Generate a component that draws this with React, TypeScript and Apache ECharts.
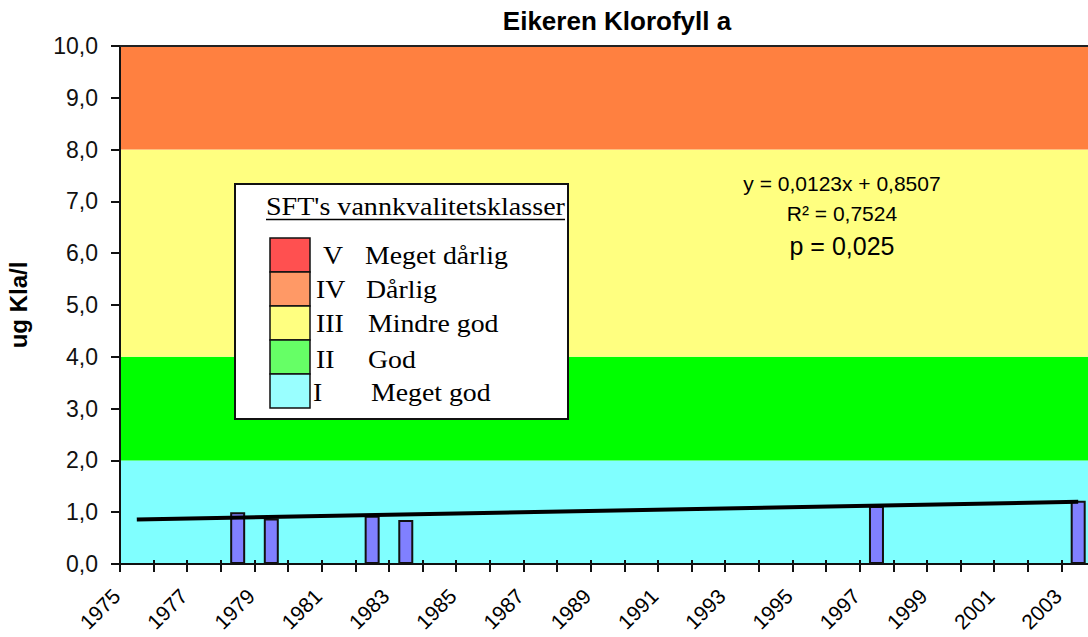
import React, { useEffect, useRef } from "react";
import * as echarts from "echarts";

// Data
const barYears = [1978, 1979, 1982, 1983, 1997, 2003];
const barValues = [1.0, 0.88, 0.93, 0.85, 1.12, 1.22];
const trendYears = [1975, 2003];
const trendValues = [0.86, 1.2];
const bandLimits = [0, 2, 4, 8, 10];
const bandColors = ["#80FFFF", "#00FF00", "#FFFF80", "#FF8040"];
const classNumerals = ["V", "IV", "III", "II", "I"];
const classNames = ["Meget dårlig", "Dårlig", "Mindre god", "God", "Meget god"];
const classColors = ["#FF5050", "#FF9966", "#FFFF80", "#66FF66", "#99FFFF"];
const equationLines = ["y = 0,0123x + 0,8507", "R² = 0,7524", "p = 0,025"];

const SANS = "'Liberation Sans', Arial, sans-serif";
const SERIF = "'Liberation Serif', 'Times New Roman', serif";

export default function App() {
  const ref = useRef<HTMLDivElement>(null);
  useEffect(() => {
    if (!ref.current) return;
    const chart = echarts.init(ref.current, undefined, { renderer: "svg" });

    const markAreaData = bandColors.map((c, i) => [
      { yAxis: bandLimits[i], itemStyle: { color: c } },
      { yAxis: bandLimits[i + 1] },
    ]);

    const swatchY = [238, 272, 306, 340, 374];
    const textY = [255, 289, 323, 359, 392];
    const numeralX = [323, 316, 316, 316, 313];
    const nameX = [365, 366, 368, 368, 371];

    const Z = 100;
    const serifText = (text: string, x: number, y: number, sx: number) => ({
      type: "text",
      z: Z + 1,
      x,
      y,
      scaleX: sx,
      style: {
        text,
        x: 0,
        y: 0,
        font: `26px ${SERIF}`,
        fill: "#000",
        textAlign: "left",
        textVerticalAlign: "middle",
      },
    });

    const graphics: any[] = [
      {
        type: "text",
        z: Z,
        style: {
          text: "Eikeren Klorofyll a",
          x: 617,
          y: 21,
          font: `bold 26px ${SANS}`,
          fill: "#000",
          textAlign: "center",
          textVerticalAlign: "middle",
        },
      },
      {
        type: "rect",
        z: Z,
        shape: { x: 235, y: 184, width: 333, height: 235 },
        style: { fill: "#fff", stroke: "#111", lineWidth: 2 },
      },
      serifText("SFT's vannkvalitetsklasser", 266, 206, 1.08),
      {
        type: "line",
        z: Z + 1,
        shape: { x1: 266, y1: 219.5, x2: 565, y2: 219.5 },
        style: { stroke: "#000", lineWidth: 1.5 },
      },
    ];
    classColors.forEach((c, i) => {
      graphics.push({
        type: "rect",
        z: Z + 1,
        shape: { x: 270, y: swatchY[i], width: 40, height: 34 },
        style: { fill: c, stroke: "#111", lineWidth: 1.5 },
      });
      graphics.push(serifText(classNumerals[i], numeralX[i], textY[i], 1.07));
      graphics.push(serifText(classNames[i], nameX[i], textY[i], 1.07));
    });

    const eqY = [183, 213, 246];
    const eqSize = [21, 21, 25];
    equationLines.forEach((t, i) => {
      graphics.push({
        type: "text",
        z: Z,
        style: {
          text: t,
          x: 842,
          y: eqY[i],
          font: `${eqSize[i]}px ${SANS}`,
          fill: "#000",
          textAlign: "center",
          textVerticalAlign: "middle",
        },
      });
    });

    const xCommon = {
      type: "value" as const,
      min: 1975,
      max: 2004,
      interval: 1,
      splitLine: { show: false },
      z: 5,
    };

    chart.setOption({
      animation: false,
      backgroundColor: "#fff",
      grid: {
        left: 120,
        right: -7,
        top: 46,
        bottom: 73,
        containLabel: false,
        outerBoundsMode: "none",
      },
      xAxis: [
        {
          ...xCommon,
          position: "bottom",
          axisLine: { show: true, lineStyle: { color: "#111", width: 2 } },
          axisTick: { show: true, inside: false, length: 8, lineStyle: { color: "#111", width: 2 } },
          axisLabel: {
            rotate: 45,
            margin: 25,
            fontSize: 21,
            fontFamily: SANS,
            color: "#000",
            padding: [0, 5, 0, 0],
            formatter: (v: number) => ((v - 1975) % 2 === 0 ? String(v) : ""),
          },
        },
        {
          ...xCommon,
          position: "bottom",
          axisLine: { show: false },
          axisTick: { show: true, inside: true, length: 4, lineStyle: { color: "#111", width: 2 } },
          axisLabel: { show: false },
        },
        {
          ...xCommon,
          position: "top",
          axisLine: { show: true, lineStyle: { color: "#222", width: 2 } },
          axisTick: { show: false },
          axisLabel: { show: false },
        },
      ],
      yAxis: {
        type: "value",
        min: 0,
        max: 10,
        interval: 1,
        z: 5,
        splitLine: { show: false },
        axisLine: { show: true, lineStyle: { color: "#111", width: 2 } },
        axisTick: { show: true, length: 9, lineStyle: { color: "#111", width: 2 } },
        axisLabel: {
          margin: 22,
          fontSize: 23,
          fontFamily: SANS,
          color: "#111",
          formatter: (v: number) => v.toFixed(1).replace(".", ","),
        },
        name: "ug Kla/l",
        nameLocation: "middle",
        nameGap: 90,
        nameRotate: 90,
        nameTextStyle: { fontSize: 24, fontWeight: "bold", fontFamily: SANS, color: "#000" },
      },
      series: [
        {
          type: "line",
          data: [],
          silent: true,
          z: 1,
          markArea: { silent: true, data: markAreaData },
        },
        {
          type: "bar",
          data: barYears.map((y, i) => [y + 0.5, barValues[i]]),
          barWidth: 15,
          z: 3,
          itemStyle: { color: "#8080FF", borderColor: "#111", borderWidth: 2 },
        },
        {
          type: "line",
          data: trendYears.map((y, i) => [y + 0.5, trendValues[i]]),
          showSymbol: false,
          symbol: "none",
          z: 4,
          lineStyle: { color: "#000", width: 4 },
        },
      ],
      graphic: graphics,
    });
    return () => chart.dispose();
  }, []);
  return (
    <div
      ref={ref}
      style={{ position: "fixed", left: 0, top: 0, width: 1088, height: 637 }}
    />
  );
}
